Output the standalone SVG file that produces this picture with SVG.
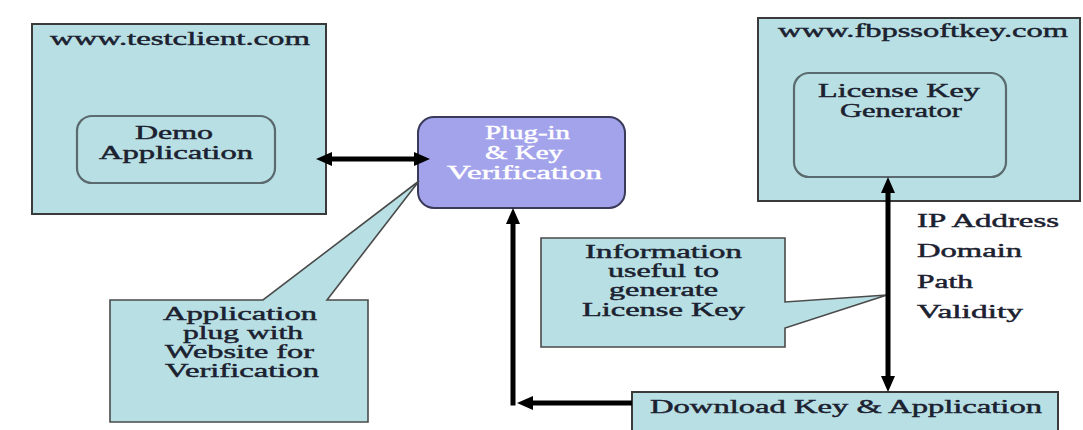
<svg xmlns="http://www.w3.org/2000/svg" width="1083" height="430" viewBox="0 0 1083 430">
<style>
  .box { fill: #b8e0e4; stroke: #3a3a3a; stroke-width: 2; }
  .inner { fill: #b8e0e4; stroke: #5a6a6e; stroke-width: 2.2; }
  .plug { fill: #a3a3ec; stroke: #3a3a5a; stroke-width: 2; }
  .callout { fill: #b8e0e4; stroke: #4a4a4a; stroke-width: 1.6; }
  .t { font-family: "Liberation Serif", "Times New Roman", serif; font-size: 18.5px; fill: #1c2130; stroke: #1c2130; stroke-width: 0.45; }
  .w { fill: #ffffff; stroke: #ffffff; }
  .conn { stroke: #000; stroke-width: 5; fill: none; }
</style>
<defs>
  <marker id="ah" viewBox="0 0 16 16" refX="2" refY="8" markerWidth="16" markerHeight="16" markerUnits="userSpaceOnUse" orient="auto-start-reverse">
    <path d="M0,1 L16,8 L0,15 Z" fill="#000"/>
  </marker>
</defs>
<rect width="1083" height="430" fill="#ffffff"/>

<g id="testclient">
  <rect class="box" x="32" y="24" width="294" height="190"/>
  <text class="t" x="50" y="45" textLength="260" lengthAdjust="spacingAndGlyphs">www.testclient.com</text>
</g>
<g id="demo-app">
  <rect class="inner" x="77" y="116" width="198" height="67" rx="15"/>
  <text class="t" x="135" y="139" textLength="78" lengthAdjust="spacingAndGlyphs">Demo</text>
  <text class="t" x="99" y="159" textLength="154" lengthAdjust="spacingAndGlyphs">Application</text>
</g>
<g id="plugin">
  <rect class="plug" x="418" y="117" width="207" height="91" rx="16"/>
  <text class="t w" x="485" y="139" textLength="85" lengthAdjust="spacingAndGlyphs">Plug-in</text>
  <text class="t w" x="485" y="159" textLength="78" lengthAdjust="spacingAndGlyphs">&amp; Key</text>
  <text class="t w" x="447" y="179" textLength="155" lengthAdjust="spacingAndGlyphs">Verification</text>
</g>
<g id="fbpssoftkey">
  <rect class="box" x="758" y="18" width="322" height="183"/>
  <text class="t" x="778" y="37" textLength="290" lengthAdjust="spacingAndGlyphs">www.fbpssoftkey.com</text>
</g>
<g id="keygen">
  <rect class="inner" x="794" y="73" width="212" height="104" rx="15"/>
  <text class="t" x="818" y="97" textLength="162" lengthAdjust="spacingAndGlyphs">License Key</text>
  <text class="t" x="840" y="117" textLength="122" lengthAdjust="spacingAndGlyphs">Generator</text>
</g>
<g id="info-list">
  <text class="t" x="917" y="227" textLength="142" lengthAdjust="spacingAndGlyphs">IP Address</text>
  <text class="t" x="917" y="257" textLength="105" lengthAdjust="spacingAndGlyphs">Domain</text>
  <text class="t" x="917" y="288" textLength="56" lengthAdjust="spacingAndGlyphs">Path</text>
  <text class="t" x="917" y="318" textLength="106" lengthAdjust="spacingAndGlyphs">Validity</text>
</g>
<g id="info-callout">
  <path class="callout" d="M541,238 L785,238 L785,302 L887,295 L785,328 L785,347 L541,347 Z"/>
  <text class="t" x="585" y="258" textLength="157" lengthAdjust="spacingAndGlyphs">Information</text>
  <text class="t" x="608" y="277" textLength="111" lengthAdjust="spacingAndGlyphs">useful to</text>
  <text class="t" x="609" y="296" textLength="109" lengthAdjust="spacingAndGlyphs">generate</text>
  <text class="t" x="582" y="316" textLength="163" lengthAdjust="spacingAndGlyphs">License Key</text>
</g>
<g id="app-callout">
  <path class="callout" d="M110,300 L263,300 L419,181 L327,300 L368,300 L368,422 L110,422 Z"/>
  <text class="t" x="163" y="320" textLength="154" lengthAdjust="spacingAndGlyphs">Application</text>
  <text class="t" x="183" y="339" textLength="120" lengthAdjust="spacingAndGlyphs">plug with</text>
  <text class="t" x="165" y="358" textLength="149" lengthAdjust="spacingAndGlyphs">Website for</text>
  <text class="t" x="165" y="377" textLength="154" lengthAdjust="spacingAndGlyphs">Verification</text>
</g>
<g id="download">
  <rect class="box" x="632" y="392" width="426" height="40"/>
  <text class="t" x="650" y="413" textLength="392" lengthAdjust="spacingAndGlyphs">Download Key &amp; Application</text>
</g>

<g id="connectors">
  <path class="conn" d="M330,159 L416,159" marker-start="url(#ah)" marker-end="url(#ah)"/>
  <path class="conn" d="M888,191 L888,378" marker-start="url(#ah)" marker-end="url(#ah)"/>
  <path class="conn" d="M632,403 L531,403" marker-end="url(#ah)"/>
  <path class="conn" d="M513,405.5 L513,222" marker-end="url(#ah)"/>
</g>
</svg>
